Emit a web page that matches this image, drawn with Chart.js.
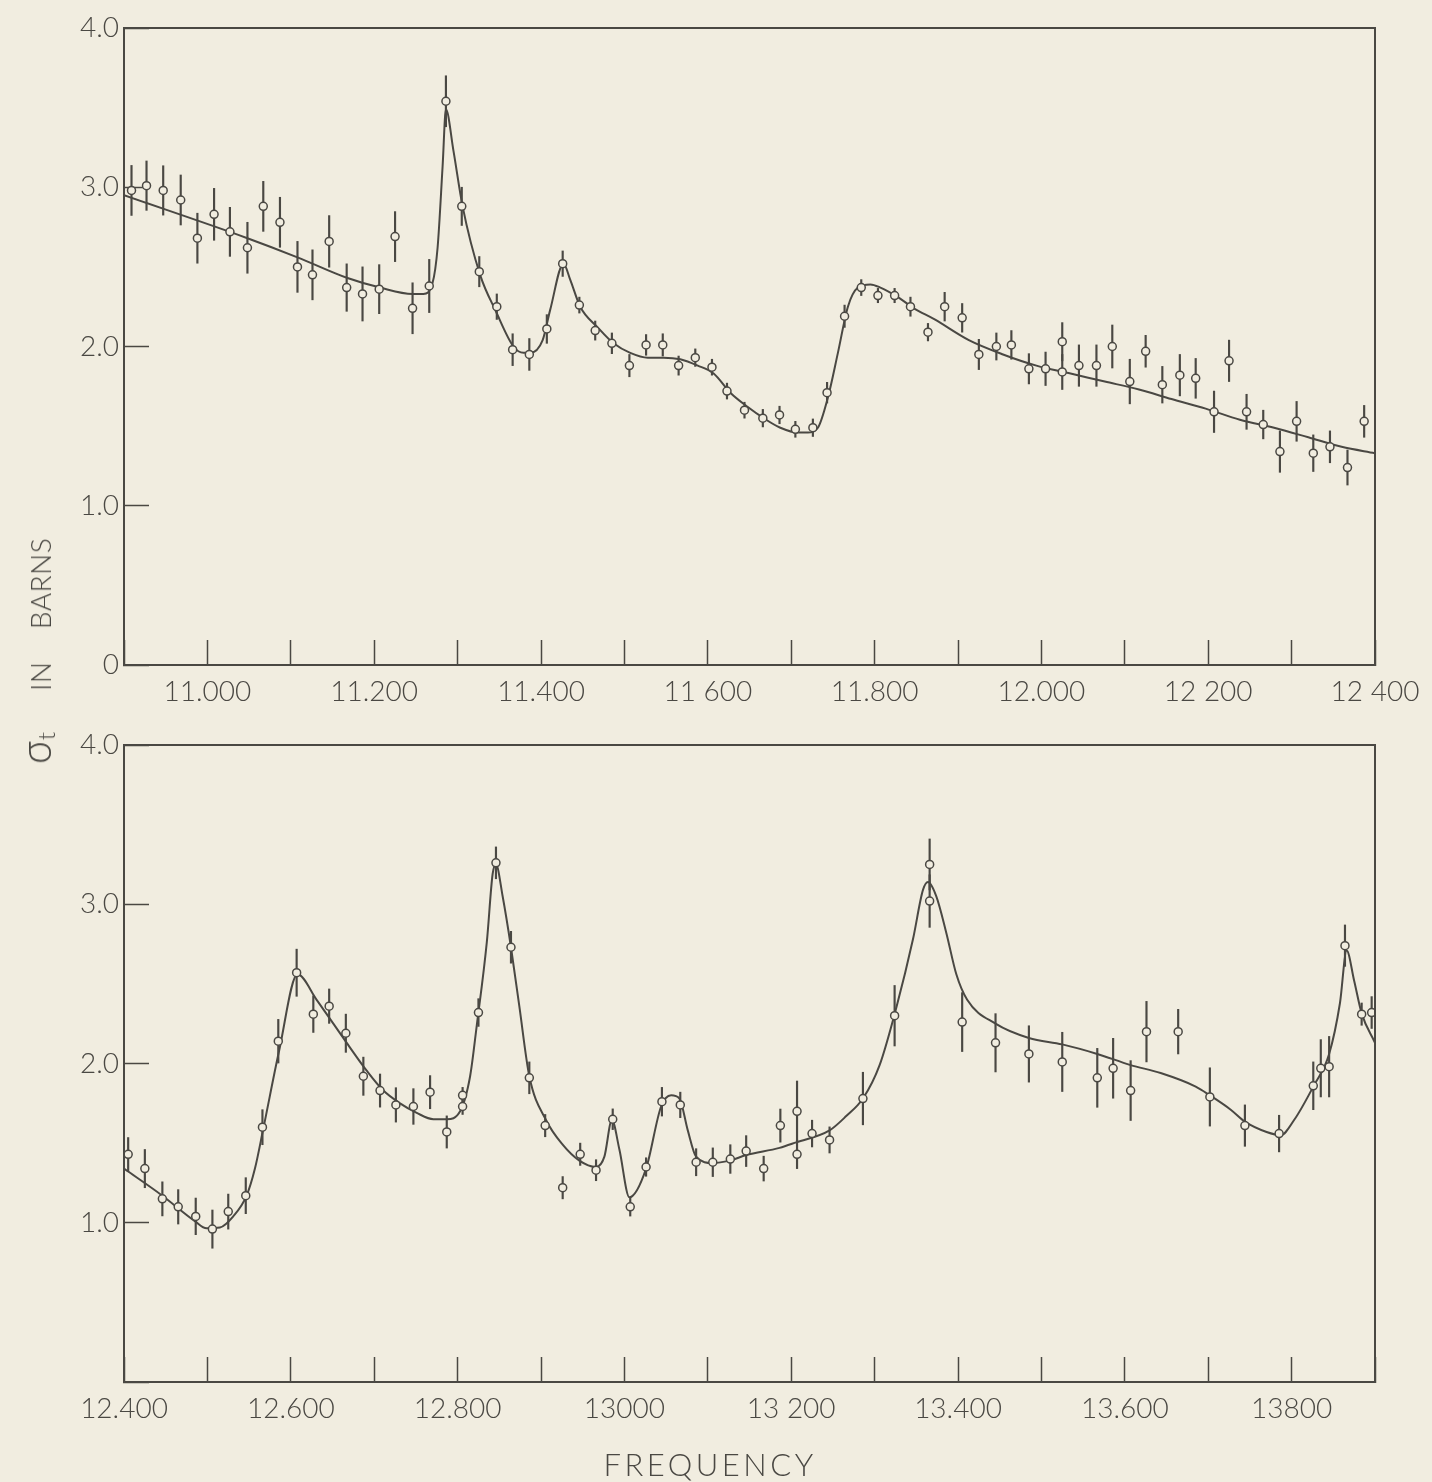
<!DOCTYPE html>
<html>
<head>
<meta charset="utf-8">
<title>Total cross section vs frequency</title>
<script src="https://cdn.jsdelivr.net/npm/chart.js@4.4.1/dist/chart.umd.min.js"></script>
<style>
  html, body { margin: 0; padding: 0; background: #f1ede0; }
  body { width: 1432px; height: 1482px; position: relative; overflow: hidden; color: #4a4843; font-family: Lato, "Open Sans", sans-serif; font-weight: 300; }
  canvas { position: absolute; left: 0; }
  #topChart { top: 0; }
  #bottomChart { top: 720px; }
  .y-title {
    position: absolute; left: 38px; top: 651px;
    transform: translate(-50%, -50%) rotate(-90deg);
    white-space: nowrap; font-size: 28px; letter-spacing: 0.5px;
  }
  .y-title .sig { font-family: "Open Sans", sans-serif; font-weight: 300; font-size: 40px; line-height: 1; }
  .y-title sub { font-size: 24px; vertical-align: -4px; }
  .x-title {
    position: absolute; left: 710px; top: 1464px;
    transform: translate(-50%, -50%);
    white-space: nowrap; font-size: 31px; font-weight: 300; letter-spacing: 3.5px;
  }
</style>
</head>
<body>
<canvas id="topChart" width="1432" height="720"></canvas>
<canvas id="bottomChart" width="1432" height="762"></canvas>
<div class="y-title"><span class="sig">σ</span><sub>t</sub>&nbsp;&nbsp;&nbsp;&nbsp;&nbsp;IN&nbsp;&nbsp;&nbsp;&nbsp;BARNS</div>
<div class="x-title">FREQUENCY</div>

<script>
// Colours of the printed figure
const INK = '#4a4843';
const PAPER = '#f1ede0';

// ---- Upper panel (10 900 - 12 400) ----
const topFreq = [10909, 10927, 10947, 10968, 10988, 11008, 11027, 11048, 11067, 11087,
    11108, 11126, 11146, 11167, 11186, 11206, 11225, 11246, 11266, 11286,
    11305, 11326, 11347, 11366, 11386, 11407, 11426, 11446, 11465, 11485,
    11506, 11526, 11546, 11565, 11585, 11605, 11623, 11644, 11666, 11686,
    11705, 11726, 11743, 11764, 11784, 11804, 11824, 11843, 11864, 11884,
    11905, 11925, 11946, 11964, 11985, 12005, 12025, 12025, 12045, 12066,
    12085, 12106, 12125, 12145, 12166, 12185, 12207, 12225, 12246, 12266,
    12286, 12306, 12326, 12346, 12367, 12387];
const topSigma = [2.98, 3.01, 2.98, 2.92, 2.68, 2.83, 2.72, 2.62, 2.88, 2.78,
    2.50, 2.45, 2.66, 2.37, 2.33, 2.36, 2.69, 2.24, 2.38, 3.54,
    2.88, 2.47, 2.25, 1.98, 1.95, 2.11, 2.52, 2.26, 2.10, 2.02,
    1.88, 2.01, 2.01, 1.88, 1.93, 1.87, 1.72, 1.60, 1.55, 1.57,
    1.48, 1.49, 1.71, 2.19, 2.37, 2.32, 2.32, 2.25, 2.09, 2.25,
    2.18, 1.95, 2.00, 2.01, 1.86, 1.86, 2.03, 1.84, 1.88, 1.88,
    2.00, 1.78, 1.97, 1.76, 1.82, 1.80, 1.59, 1.91, 1.59, 1.51,
    1.34, 1.53, 1.33, 1.37, 1.24, 1.53];
const topErr = [0.157, 0.155, 0.155, 0.157, 0.157, 0.163, 0.154, 0.16, 0.157, 0.157,
    0.16, 0.157, 0.162, 0.149, 0.17, 0.154, 0.157, 0.16, 0.167, 0.16,
    0.12, 0.095, 0.08, 0.10, 0.10, 0.09, 0.08, 0.05, 0.06, 0.065,
    0.07, 0.065, 0.07, 0.06, 0.055, 0.05, 0.05, 0.05, 0.055, 0.055,
    0.05, 0.055, 0.065, 0.07, 0.05, 0.045, 0.045, 0.06, 0.055, 0.09,
    0.09, 0.095, 0.085, 0.09, 0.095, 0.105, 0.12, 0.11, 0.13, 0.13,
    0.135, 0.14, 0.10, 0.115, 0.13, 0.125, 0.13, 0.13, 0.11, 0.09,
    0.13, 0.125, 0.115, 0.10, 0.11, 0.10];
const topCurveFreq = [10900, 11048, 11108, 11168, 11207, 11246, 11259, 11270, 11276, 11282,
    11286, 11295, 11306, 11327, 11346, 11367, 11379, 11387, 11402, 11411,
    11427, 11435, 11447, 11468, 11487, 11507, 11528, 11547, 11567, 11588,
    11607, 11627, 11648, 11667, 11687, 11708, 11720, 11732, 11744, 11756,
    11768, 11780, 11795, 11807, 11828, 11847, 11872, 11913, 11954, 11994,
    12035, 12076, 12117, 12156, 12197, 12238, 12279, 12320, 12360, 12400];
const topCurveSigma = [2.95, 2.68, 2.56, 2.43, 2.37, 2.33, 2.33, 2.40, 2.62, 3.13,
    3.49, 3.23, 2.88, 2.45, 2.22, 2.00, 1.96, 1.96, 2.04, 2.23,
    2.52, 2.42, 2.25, 2.12, 2.02, 1.96, 1.93, 1.93, 1.92, 1.88,
    1.83, 1.71, 1.62, 1.55, 1.49, 1.46, 1.46, 1.49, 1.68, 1.96,
    2.25, 2.37, 2.39, 2.37, 2.31, 2.24, 2.17, 2.04, 1.95, 1.88,
    1.83, 1.78, 1.73, 1.67, 1.61, 1.54, 1.49, 1.43, 1.37, 1.33];
const topXTicks = [11000, 11200, 11400, 11600, 11800, 12000, 12200, 12400];
const topXLabels = ['11.000', '11.200', '11.400', '11 600', '11.800', '12.000', '12 200', '12 400'];
const topYTicks = [0, 1, 2, 3, 4];
const topYLabels = ['0', '1.0', '2.0', '3.0', '4.0'];

// ---- Lower panel (12 400 - 13 900) ----
const bottomFreq = [12405, 12425, 12446, 12465, 12486, 12506, 12525, 12546, 12566, 12585,
    12607, 12627, 12646, 12666, 12687, 12707, 12726, 12747, 12767, 12787,
    12806, 12806, 12825, 12846, 12864, 12886, 12905, 12926, 12947, 12966,
    12986, 13007, 13026, 13045, 13067, 13086, 13106, 13127, 13146, 13167,
    13187, 13207, 13207, 13225, 13246, 13286, 13324, 13366, 13366, 13405,
    13445, 13485, 13525, 13567, 13586, 13607, 13626, 13664, 13702, 13744,
    13785, 13826, 13835, 13845, 13864, 13884, 13896];
const bottomSigma = [1.43, 1.34, 1.15, 1.10, 1.04, 0.96, 1.07, 1.17, 1.60, 2.14,
    2.57, 2.31, 2.36, 2.19, 1.92, 1.83, 1.74, 1.73, 1.82, 1.57,
    1.80, 1.73, 2.32, 3.26, 2.73, 1.91, 1.61, 1.22, 1.43, 1.33,
    1.65, 1.10, 1.35, 1.76, 1.74, 1.38, 1.38, 1.40, 1.45, 1.34,
    1.61, 1.70, 1.43, 1.56, 1.52, 1.78, 2.30, 3.25, 3.02, 2.26,
    2.13, 2.06, 2.01, 1.91, 1.97, 1.83, 2.20, 2.20, 1.79, 1.61,
    1.56, 1.86, 1.97, 1.98, 2.74, 2.31, 2.32];
const bottomErr = [0.105, 0.12, 0.107, 0.108, 0.115, 0.12, 0.11, 0.113, 0.11, 0.137,
    0.148, 0.115, 0.108, 0.12, 0.12, 0.104, 0.108, 0.112, 0.104, 0.101,
    0.05, 0.05, 0.087, 0.10, 0.10, 0.10, 0.07, 0.07, 0.07, 0.066,
    0.065, 0.058, 0.058, 0.09, 0.08, 0.085, 0.09, 0.09, 0.097, 0.078,
    0.104, 0.19, 0.09, 0.084, 0.082, 0.165, 0.19, 0.16, 0.165, 0.185,
    0.183, 0.177, 0.186, 0.185, 0.188, 0.188, 0.19, 0.14, 0.183, 0.13,
    0.115, 0.15, 0.18, 0.19, 0.13, 0.07, 0.10];
const bottomCurveFreq = [12400, 12446, 12485, 12499, 12515, 12531, 12547, 12557, 12567, 12586,
    12608, 12631, 12651, 12671, 12691, 12711, 12731, 12751, 12771, 12787,
    12803, 12815, 12823, 12835, 12842, 12846, 12854, 12864, 12874, 12886,
    12906, 12926, 12946, 12966, 12976, 12985, 12994, 13006, 13026, 13044,
    13056, 13066, 13076, 13086, 13106, 13126, 13146, 13186, 13206, 13246,
    13266, 13286, 13306, 13326, 13346, 13358, 13364, 13374, 13386, 13398,
    13411, 13445, 13485, 13525, 13567, 13607, 13643, 13685, 13702, 13727,
    13744, 13770, 13787, 13803, 13826, 13845, 13858, 13866, 13875, 13884, 13900];
const bottomCurveSigma = [1.34, 1.17, 1.01, 0.965, 0.97, 1.04, 1.17, 1.34, 1.59, 2.08,
    2.56, 2.40, 2.25, 2.10, 1.955, 1.83, 1.75, 1.69, 1.65, 1.65,
    1.70, 1.92, 2.24, 2.76, 3.19, 3.25, 3.05, 2.73, 2.36, 1.92,
    1.645, 1.49, 1.39, 1.35, 1.415, 1.645, 1.46, 1.16, 1.34, 1.73,
    1.80, 1.78, 1.58, 1.415, 1.375, 1.39, 1.425, 1.47, 1.505, 1.58,
    1.67, 1.78, 1.99, 2.35, 2.78, 3.09, 3.14, 3.05, 2.82, 2.56,
    2.40, 2.25, 2.16, 2.12, 2.06, 1.99, 1.94, 1.855, 1.80, 1.71,
    1.635, 1.57, 1.55, 1.645, 1.855, 2.06, 2.38, 2.71, 2.52, 2.315, 2.13];
const bottomXTicks = [12400, 12600, 12800, 13000, 13200, 13400, 13600, 13800];
const bottomXLabels = ['12.400', '12.600', '12.800', '13000', '13 200', '13.400', '13.600', '13800'];
const bottomYTicks = [1, 2, 3, 4];
const bottomYLabels = ['1.0', '2.0', '3.0', '4.0'];

document.addEventListener('DOMContentLoaded', function() {
    buildPanel('topChart', {
        freq: topFreq, sigma: topSigma, err: topErr,
        curveFreq: topCurveFreq, curveSigma: topCurveSigma,
        xMin: 10900, xMax: 12400,
        xTicks: topXTicks, xLabels: topXLabels,
        yTicks: topYTicks, yLabels: topYLabels,
        padTop: 28, axisHeight: 55
    });
    buildPanel('bottomChart', {
        freq: bottomFreq, sigma: bottomSigma, err: bottomErr,
        curveFreq: bottomCurveFreq, curveSigma: bottomCurveSigma,
        xMin: 12400, xMax: 13900,
        xTicks: bottomXTicks, xLabels: bottomXLabels,
        yTicks: bottomYTicks, yLabels: bottomYLabels,
        padTop: 25, axisHeight: 100
    });
});

/**
 * Look up the printed label for a tick value
 */
function labelFor(value, values, labels) {
    const i = values.indexOf(Math.round(value * 1000) / 1000);
    return i === -1 ? '' : labels[i];
}

/**
 * Keep the plot area where the figure has it: labels may hang over the edges
 */
function clearScalePadding(s) {
    s.paddingTop = 0;
    s.paddingBottom = 0;
    s.paddingLeft = 0;
    s.paddingRight = 0;
}

/**
 * Closed frame around the plotting area
 */
const framePlugin = {
    id: 'frame',
    afterDraw(chart) {
        const a = chart.chartArea;
        const ctx = chart.ctx;
        ctx.save();
        ctx.strokeStyle = INK;
        ctx.lineWidth = 2;
        ctx.strokeRect(a.left, a.top, a.right - a.left, a.bottom - a.top);
        ctx.restore();
    }
};

/**
 * One panel: fitted curve, error bars and open circles
 */
function buildPanel(canvasId, p) {
    const ctx = document.getElementById(canvasId);
    const font = { family: 'Lato, "Open Sans", sans-serif', size: 28, weight: 300 };

    const points = p.freq.map((f, i) => ({ x: f, y: p.sigma[i] }));
    const bars = p.freq.map((f, i) => ({ x: f, y: [p.sigma[i] - p.err[i], p.sigma[i] + p.err[i]] }));
    const curve = p.curveFreq.map((f, i) => ({ x: f, y: p.curveSigma[i] }));

    new Chart(ctx, {
        type: 'line',
        data: {
            datasets: [
                {
                    type: 'line',
                    data: points,
                    showLine: false,
                    pointStyle: 'circle',
                    pointRadius: 4,
                    pointBorderWidth: 1.5,
                    pointBackgroundColor: PAPER,
                    pointBorderColor: INK,
                    order: 0
                },
                {
                    type: 'bar',
                    data: bars,
                    backgroundColor: INK,
                    borderWidth: 0,
                    barThickness: 1.5,
                    grouped: false,
                    order: 1
                },
                {
                    type: 'line',
                    data: curve,
                    borderColor: INK,
                    borderWidth: 2,
                    pointRadius: 0,
                    cubicInterpolationMode: 'monotone',
                    fill: false,
                    order: 2
                }
            ]
        },
        options: {
            responsive: false,
            animation: false,
            events: [],
            layout: { padding: { left: 0, right: 57, top: p.padTop, bottom: 0 } },
            plugins: {
                legend: { display: false },
                tooltip: { enabled: false }
            },
            scales: {
                x: {
                    type: 'linear',
                    min: p.xMin,
                    max: p.xMax,
                    offset: false,
                    ticks: {
                        stepSize: 100,
                        autoSkip: false,
                        maxRotation: 0,
                        padding: 35,
                        color: INK,
                        font: font,
                        callback: v => labelFor(v, p.xTicks, p.xLabels)
                    },
                    grid: {
                        offset: false,
                        drawOnChartArea: false,
                        drawTicks: true,
                        tickLength: -25,
                        tickWidth: 1.5,
                        tickColor: INK
                    },
                    border: { color: INK, width: 2 },
                    afterFit: s => { s.height = p.axisHeight; clearScalePadding(s); }
                },
                y: {
                    type: 'linear',
                    min: 0,
                    max: 4,
                    ticks: {
                        stepSize: 1,
                        padding: 30,
                        color: INK,
                        font: font,
                        callback: v => labelFor(v, p.yTicks, p.yLabels)
                    },
                    grid: {
                        drawOnChartArea: false,
                        drawTicks: true,
                        tickLength: -25,
                        tickWidth: 1.5,
                        tickColor: INK
                    },
                    border: { color: INK, width: 2 },
                    afterFit: s => { s.width = 124; clearScalePadding(s); }
                }
            }
        },
        plugins: [framePlugin]
    });
}
</script>
</body>
</html>
